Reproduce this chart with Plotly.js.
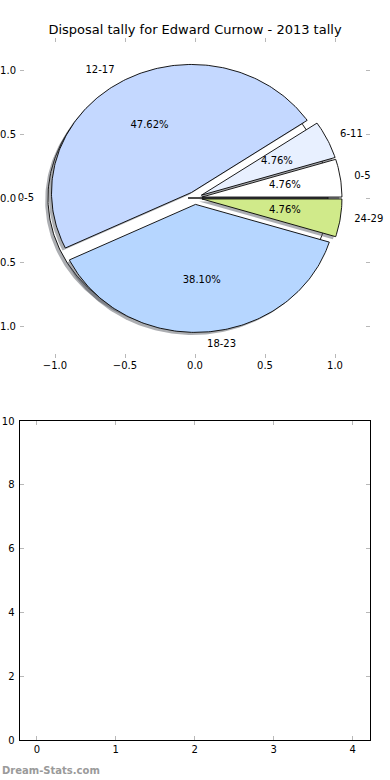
<!DOCTYPE html>
<html>
<head>
<meta charset="utf-8">
<script src="https://cdn.plot.ly/plotly-3.0.1.min.js"></script>
<style>html,body{margin:0;padding:0;background:#fff;}#chart{width:390px;height:780px;}</style>
</head>
<body>
<div id="chart"></div>
<script>
// ---- data ----
const chartTitle = 'Disposal tally for Edward Curnow - 2013 tally';
const ageGroups = ['0-5', '6-11', '12-17', '18-23', '24-29'];
const disposalTally = [1, 1, 10, 8, 1];
// an earlier single-slice pie drawn underneath (shows as "0-5 / 100.00%")
const firstGroups = ['0-5'];
const firstTally = [1];
const pieTicks = [-1.0, -0.5, 0.0, 0.5, 1.0];
const lowerXTicks = [0, 1, 2, 3, 4];
const lowerYTicks = [0, 2, 4, 6, 8, 10];
const watermark = 'Dream-Stats.com';

// ---- styles ----
const sliceColors = {
  '0-5': '#ffffff',
  '6-11': '#e8f0ff',
  '12-17': '#c4d8ff',
  '18-23': '#b6d6ff',
  '24-29': '#d0ea8a'
};
const EXPLODE = 0.05, LABEL_DIST = 1.1, PCT_DIST = 0.6, SHADOW = -0.02;
const FONT = 'DejaVu Sans, sans-serif';

const traces = [];

function wedge(cx, cy, t1, t2) {
  const xs = [cx], ys = [cy];
  const n = Math.max(6, Math.ceil(t2 - t1));
  for (let i = 0; i <= n; i++) {
    const a = (t1 + (t2 - t1) * i / n) * Math.PI / 180;
    xs.push(cx + Math.cos(a));
    ys.push(cy + Math.sin(a));
  }
  xs.push(cx); ys.push(cy);
  return {xs, ys};
}

function addPie(groups, values) {
  const total = values.reduce((a, b) => a + b, 0);
  let cum = 0;
  const slices = groups.map((g, i) => {
    const t1 = cum / total * 360;
    cum += values[i];
    const t2 = cum / total * 360;
    const mid = (t1 + t2) / 2 * Math.PI / 180;
    const cx = EXPLODE * Math.cos(mid), cy = EXPLODE * Math.sin(mid);
    return {g, v: values[i], t1, t2, mid, cx, cy, pct: values[i] / total * 100};
  });
  // shadows
  slices.forEach(s => {
    const w = wedge(s.cx + SHADOW, s.cy + SHADOW, s.t1, s.t2);
    traces.push({type: 'scatter', mode: 'lines', x: w.xs, y: w.ys, fill: 'toself',
      fillcolor: 'rgba(70,75,85,0.45)', line: {width: 0}, hoverinfo: 'skip', showlegend: false,
      xaxis: 'x', yaxis: 'y'});
  });
  // wedges
  slices.forEach(s => {
    const w = wedge(s.cx, s.cy, s.t1, s.t2);
    traces.push({type: 'scatter', mode: 'lines', x: w.xs, y: w.ys, fill: 'toself',
      fillcolor: sliceColors[s.g], line: {color: '#000', width: 0.9}, name: s.g,
      hoverinfo: 'skip', showlegend: false, xaxis: 'x', yaxis: 'y'});
  });
  // labels
  traces.push({type: 'scatter', mode: 'text',
    x: slices.map(s => s.cx + LABEL_DIST * Math.cos(s.mid)),
    y: slices.map(s => s.cy + LABEL_DIST * Math.sin(s.mid)),
    text: slices.map(s => s.g),
    textposition: slices.map(s => Math.cos(s.mid) < 0 ? 'middle left' : 'middle right'),
    marker: {size: 0},
    textfont: {family: FONT, size: 10, color: '#000'},
    hoverinfo: 'skip', showlegend: false, cliponaxis: false, xaxis: 'x', yaxis: 'y'});
  traces.push({type: 'scatter', mode: 'text',
    x: slices.map(s => s.cx + PCT_DIST * Math.cos(s.mid)),
    y: slices.map(s => s.cy + PCT_DIST * Math.sin(s.mid)),
    text: slices.map(s => s.pct.toFixed(2) + '%'),
    textposition: 'middle center',
    textfont: {family: FONT, size: 10, color: '#000'},
    hoverinfo: 'skip', showlegend: false, cliponaxis: false, xaxis: 'x', yaxis: 'y'});
}

addPie(firstGroups, firstTally);
addPie(ageGroups, disposalTally);

// empty lower axes
traces.push({type: 'scatter', mode: 'markers', x: [], y: [], xaxis: 'x2', yaxis: 'y2',
  showlegend: false, hoverinfo: 'skip'});

const W = 390, H = 780;
const tickStyle = {ticks: 'inside', ticklen: 4, tickwidth: 1, tickcolor: '#b8b8b8',
  showgrid: false, zeroline: false, mirror: 'ticks',
  tickfont: {family: FONT, size: 10, color: '#000'}, fixedrange: true};

const layout = {
  width: W, height: H,
  margin: {l: 0, r: 0, t: 0, b: 0},
  paper_bgcolor: '#fff', plot_bgcolor: 'rgba(0,0,0,0)',
  font: {family: FONT, size: 10, color: '#000'},
  title: {text: chartTitle, font: {family: FONT, size: 13, color: '#000'},
    x: 0.5, xanchor: 'center', y: 1 - 29 / H, yanchor: 'middle'},
  showlegend: false,
  xaxis: Object.assign({}, tickStyle, {domain: [20 / W, 370 / W], range: [-1.25, 1.25],
    tickvals: pieTicks, tickformat: '.1f', showline: false, anchor: 'y'}),
  yaxis: Object.assign({}, tickStyle, {domain: [(H - 358) / H, (H - 38) / H], range: [-1.25, 1.25],
    tickvals: pieTicks, tickformat: '.1f', showline: false, anchor: 'x', ticklabelstandoff: 3}),
  xaxis2: Object.assign({}, tickStyle, {domain: [19.5 / W, 370 / W], range: [-0.22, 4.22],
    tickvals: lowerXTicks, showline: true, linecolor: '#000', linewidth: 1, anchor: 'y2'}),
  yaxis2: Object.assign({}, tickStyle, {domain: [(H - 740) / H, (H - 421) / H], range: [0, 10],
    tickvals: lowerYTicks, showline: true, linecolor: '#000', linewidth: 1, anchor: 'x2', ticklabelstandoff: 2}),
  annotations: [{text: watermark, xref: 'paper', yref: 'paper', x: 0, y: 1 - 770 / H,
    xanchor: 'left', yanchor: 'middle', showarrow: false,
    font: {family: FONT, size: 10, color: '#9a9a9a', weight: 'bold'}}]
};

Plotly.newPlot('chart', traces, layout, {displayModeBar: false, staticPlot: true});
</script>
</body>
</html>
